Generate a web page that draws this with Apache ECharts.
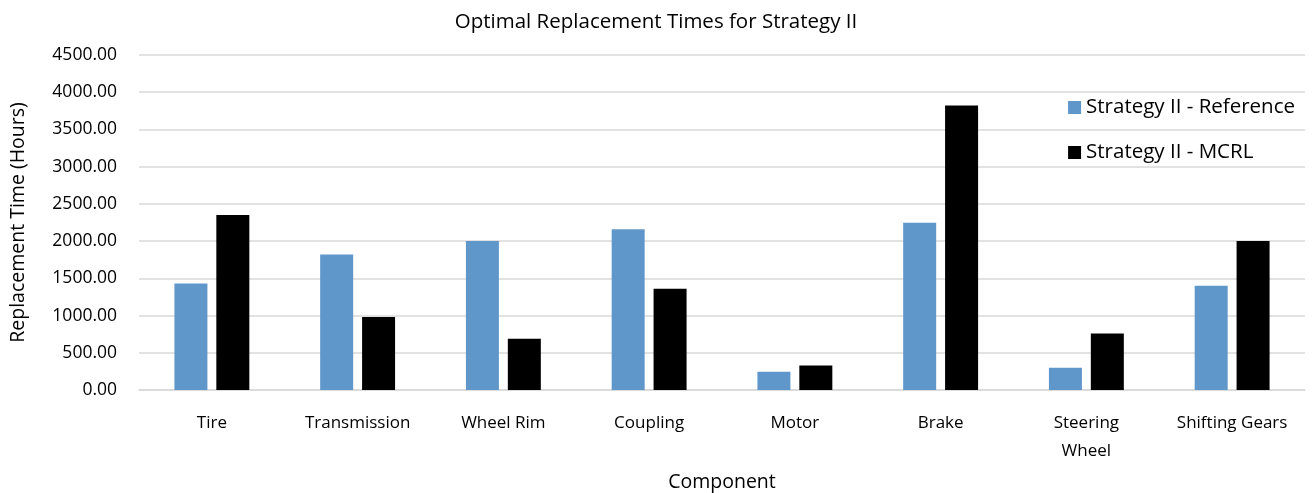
<!DOCTYPE html>
<html><head><meta charset="utf-8">
<script src="https://cdn.jsdelivr.net/npm/echarts@6/dist/echarts.min.js"></script>
<style>html,body{margin:0;padding:0;background:#fff}#c{width:1312px;height:493px}</style>
</head><body><div id="c"></div>
<script>
const categories = ['Tire','Transmission','Wheel Rim','Coupling','Motor','Brake','Steering\nWheel','Shifting Gears'];
const referenceValues = [1430, 1820, 2000, 2160, 245, 2245, 300, 1400];
const mcrlValues = [2350, 980, 690, 1360, 330, 3820, 760, 2000];
const seriesNames = ['Strategy II - Reference', 'Strategy II - MCRL'];
const FONT = '"Open Sans", "Liberation Sans", sans-serif';
const chart = echarts.init(document.getElementById('c'));
chart.setOption({
  animation: false,
  textStyle: {fontFamily: FONT},
  title: {text: 'Optimal Replacement Times for Strategy II', left: 'center', top: 7,
    textStyle: {fontFamily: FONT, fontSize: 20.5, fontWeight: 'normal', color: '#000'}},
  legend: {orient: 'vertical', right: 12, top: 92, itemWidth: 13, itemHeight: 13, itemGap: 24,
    icon: 'rect', textStyle: {fontFamily: FONT, fontSize: 20.5, color: '#000'},
    data: seriesNames},
  grid: {left: 139, right: 7, top: 55, bottom: 103, containLabel: false, outerBoundsMode: 'none'},
  xAxis: {type: 'category', data: categories,
    name: 'Component', nameLocation: 'middle', nameGap: 82,
    nameTextStyle: {fontFamily: FONT, fontSize: 19.5, color: '#000'},
    axisLine: {lineStyle: {color: '#d9d9d9', width: 1.5}}, axisTick: {show: false},
    axisLabel: {fontFamily: FONT, fontSize: 17, color: '#000', margin: 19, lineHeight: 28, interval: 0}},
  yAxis: {type: 'value', min: 0, max: 4500, interval: 500,
    name: 'Replacement Time (Hours)', nameLocation: 'middle', nameGap: 111,
    nameTextStyle: {fontFamily: FONT, fontSize: 19.5, color: '#000'},
    axisLabel: {fontFamily: FONT, fontSize: 17.5, color: '#000', margin: 22, formatter: v => v.toFixed(2)},
    splitLine: {lineStyle: {color: '#d9d9d9', width: 1.5}}},
  series: [
    {name: seriesNames[0], type: 'bar', data: referenceValues, barWidth: 33, barGap: '27%',
      itemStyle: {color: '#6097cb'}},
    {name: seriesNames[1], type: 'bar', data: mcrlValues, barWidth: 33,
      itemStyle: {color: '#000'}}
  ]
});
</script></body></html>
